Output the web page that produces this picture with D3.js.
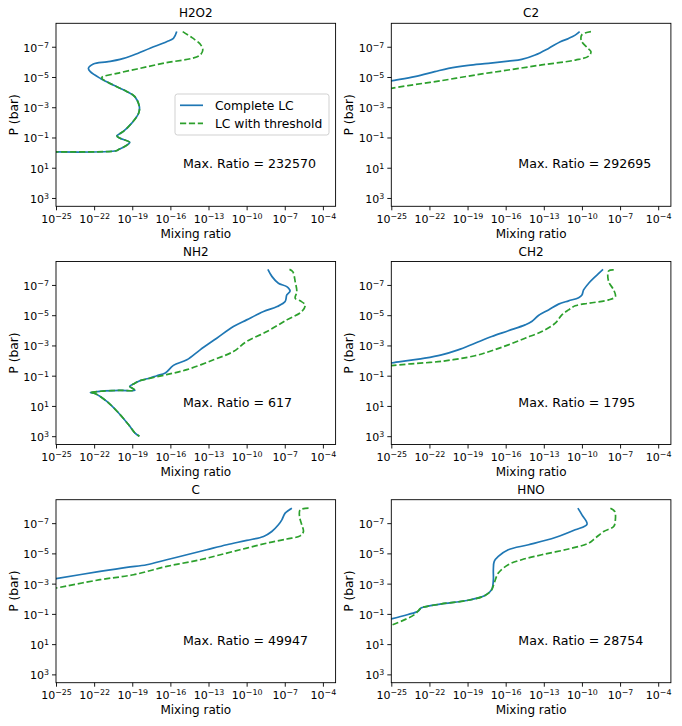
<!DOCTYPE html>
<html>
<head>
<meta charset="utf-8">
<script src="https://cdn.jsdelivr.net/npm/d3@7"></script>
<style>
  body { margin: 0; background: #fff; }
  text { font-family: "DejaVu Sans", sans-serif; fill: #000; }
</style>
</head>
<body>
<div id="figure"></div>
<script>
// profiles, as [log10 mixing ratio, log10 P (bar)]
var h2o2Complete = [[-15.5,-8.0],[-15.76,-7.55],[-16.3,-7.33],[-17.6,-6.9],[-18.9,-6.45],[-19.96,-6.16],
  [-21.0,-6.0],[-22.06,-5.86],[-22.45,-5.57],[-22.3,-5.35],[-21.5,-4.9],[-20.5,-4.47],[-19.4,-4.03],
  [-18.8,-3.7],[-18.44,-3.04],[-18.5,-2.6],[-19.04,-1.95],[-19.7,-1.4],[-20.2,-1.1],[-19.96,-0.95],
  [-19.2,-0.67],[-19.6,-0.4],[-20.1,-0.19],[-20.25,-0.12],[-25.5,-0.05]];
var h2o2Threshold = [[-15.03,-8.0],[-14.3,-7.6],[-13.66,-7.18],[-13.45,-6.78],[-13.66,-6.45],[-14.3,-6.23],
  [-16.3,-5.95],[-18.4,-5.57],[-20.2,-5.24],[-21.4,-4.95],[-20.5,-4.47],[-19.4,-4.03],
  [-18.8,-3.7],[-18.44,-3.04],[-18.5,-2.6],[-19.04,-1.95],[-19.7,-1.4],[-20.2,-1.1],[-19.96,-0.95],
  [-19.2,-0.67],[-19.6,-0.4],[-20.1,-0.19],[-20.25,-0.12],[-25.5,-0.05]];

var c2Complete = [[-10.18,-8.0],[-10.53,-7.77],[-11.05,-7.55],[-11.7,-7.33],[-12.63,-6.89],[-13.68,-6.45],
  [-14.74,-6.16],[-15.8,-6.05],[-17.37,-5.9],[-18.95,-5.77],[-20.5,-5.57],[-21.58,-5.35],[-23.16,-5.02],
  [-25,-4.74],[-25.5,-4.65]];
var c2Threshold = [[-9.29,-8.0],[-10.0,-7.8],[-10.05,-7.4],[-9.6,-6.95],[-9.29,-6.67],[-9.47,-6.38],
  [-10.5,-6.12],[-13.16,-5.8],[-15.8,-5.46],[-18.42,-5.13],[-21.05,-4.76],[-23.68,-4.43],[-25,-4.25],
  [-25.5,-4.17]];

var nh2Complete = [[-8.33,-8.03],[-8.0,-7.55],[-7.5,-7.11],[-6.84,-6.89],[-6.58,-6.6],[-6.84,-6.34],
  [-6.97,-5.9],[-7.6,-5.57],[-8.67,-5.24],[-10.0,-4.69],[-11.04,-4.25],[-12.35,-3.48],[-13.66,-2.71],
  [-14.7,-2.05],[-15.76,-1.68],[-16.4,-1.18],[-17.07,-1.0],[-17.6,-0.85],[-18.4,-0.67],[-18.9,-0.45],
  [-19.2,-0.3],[-18.9,-0.12],[-18.8,-0.03],[-20.0,-0.03],[-21.5,0.03],[-22.3,0.12],[-21.9,0.19],
  [-21.0,0.7],[-20.2,1.35],[-19.3,2.23],[-18.8,2.78],[-18.44,3.0]];
var nh2Threshold = [[-6.63,-8.03],[-6.37,-7.88],[-6.18,-7.22],[-6.05,-6.56],[-6.18,-6.12],[-5.79,-5.95],
  [-5.4,-5.68],[-5.66,-5.24],[-6.84,-4.69],[-8.4,-3.92],[-10.0,-3.26],[-11.04,-2.6],[-12.6,-2.05],
  [-14.7,-1.4],[-16.3,-1.07],[-17.86,-0.78],[-18.4,-0.67],[-18.9,-0.45],
  [-19.2,-0.3],[-18.9,-0.12],[-18.8,-0.03],[-20.0,-0.03],[-21.5,0.03],[-22.3,0.12],[-21.9,0.19],
  [-21.0,0.7],[-20.2,1.35],[-19.3,2.23],[-18.8,2.78],[-18.44,3.0]];

var ch2Complete = [[-8.34,-8.03],[-8.95,-7.55],[-9.47,-7.11],[-9.87,-6.67],[-10.0,-6.34],[-10.26,-6.16],
  [-11.05,-5.95],[-11.84,-5.73],[-12.63,-5.35],[-13.42,-4.98],[-13.95,-4.58],[-14.47,-4.36],[-15.79,-3.97],
  [-17.1,-3.59],[-18.42,-3.15],[-19.74,-2.71],[-21.05,-2.38],[-22.37,-2.16],[-25,-1.84],[-25.5,-1.78]];
var ch2Threshold = [[-7.5,-7.99],[-7.9,-7.92],[-7.9,-7.22],[-7.5,-6.67],[-7.37,-6.23],[-7.9,-6.01],
  [-9.47,-5.79],[-10.53,-5.62],[-11.05,-5.35],[-11.58,-5.02],[-12.1,-4.47],[-13.16,-3.92],[-14.47,-3.48],
  [-15.79,-3.04],[-17.1,-2.65],[-18.42,-2.32],[-21.05,-1.95],[-23.68,-1.77],[-25,-1.66],[-25.5,-1.62]];

var cComplete = [[-6.44,-7.99],[-6.97,-7.66],[-7.23,-7.22],[-7.5,-6.89],[-8.02,-6.45],[-8.67,-6.12],
  [-9.99,-5.86],[-11.56,-5.57],[-13.14,-5.24],[-14.71,-4.91],[-16.29,-4.58],[-17.86,-4.25],[-19.44,-4.08],
  [-21.54,-3.81],[-25,-3.33],[-25.5,-3.26]];
var cThreshold = [[-5.13,-7.99],[-5.79,-7.88],[-5.84,-7.44],[-5.66,-6.89],[-5.53,-6.45],[-5.79,-6.16],
  [-6.84,-5.95],[-8.4,-5.68],[-9.99,-5.35],[-11.56,-5.02],[-13.66,-4.58],[-16.29,-4.14],[-18.9,-3.59],
  [-21.54,-3.26],[-25,-2.71],[-25.5,-2.63]];

var hnoComplete = [[-10.32,-7.99],[-10.0,-7.55],[-9.6,-6.93],[-10.53,-6.56],[-12.1,-6.05],[-14.2,-5.57],
  [-15.8,-5.24],[-16.58,-4.8],[-16.9,-4.47],[-16.97,-3.92],[-16.97,-3.26],[-17.1,-2.6],[-17.63,-2.21],
  [-18.95,-1.9],[-21.05,-1.66],[-22.1,-1.51],[-22.63,-1.4],[-22.9,-1.18],[-23.68,-0.96],[-25,-0.67],
  [-25.5,-0.58]];
var hnoThreshold = [[-7.76,-7.99],[-7.42,-7.77],[-7.37,-7.22],[-7.5,-6.78],[-8.29,-6.45],[-8.95,-6.01],
  [-9.47,-5.68],[-11.05,-5.29],[-13.16,-4.91],[-14.74,-4.58],[-15.8,-4.25],[-16.58,-3.7],[-16.9,-3.04],
  [-17.1,-2.6],[-17.63,-2.21],[-18.95,-1.9],[-21.05,-1.66],[-22.1,-1.51],[-22.63,-1.4],[-23.16,-0.96],
  [-24.2,-0.52],[-25,-0.25],[-25.5,-0.15]];

var species = ["H2O2", "C2", "NH2", "CH2", "C", "HNO"];
var maxRatios = [232570, 292695, 617, 1795, 49947, 28754];
var completeProfiles = [h2o2Complete, c2Complete, nh2Complete, ch2Complete, cComplete, hnoComplete];
var thresholdProfiles = [h2o2Threshold, c2Threshold, nh2Threshold, ch2Threshold, cThreshold, hnoThreshold];
var xTicks = [-25, -22, -19, -16, -13, -10, -7, -4];
var yTicks = [-7, -5, -3, -1, 1, 3];
var legendLabels = ["Complete LC", "LC with threshold"];

var width = 682, height = 726,
    colLeft = [56, 391.3],
    rowTop = [23.3, 261.5, 499.7],
    axW = 279.6, axH = 183,
    blue = "#1f77b4", green = "#2ca02c";

function pow10(e) { return Math.pow(10, e); }

var svg = d3.select("#figure").append("svg")
  .attr("width", width)
  .attr("height", height);

var x = d3.scaleLog().domain([1e-25, 1e-3]).range([0, axW]);
var y = d3.scaleLog().domain([pow10(-8.55), pow10(3.55)]).range([0, axH]);

var line = d3.line()
  .x(function (d) { return x(pow10(d[0])); })
  .y(function (d) { return y(pow10(d[1])); })
  .curve(d3.curveCatmullRom.alpha(0.5));

function sciLabels(sel) {
  sel.each(function (d) {
    var e = Math.round(Math.log10(d));
    var t = d3.select(this).text("");
    t.append("tspan").text("10");
    t.append("tspan")
      .attr("dy", "-0.5em")
      .attr("font-size", "0.72em")
      .text(e < 0 ? "\u2212" + (-e) : String(e));
  });
}

species.forEach(function (name, i) {
  var g = svg.append("g")
    .attr("transform", "translate(" + colLeft[i % 2] + "," + rowTop[Math.floor(i / 2)] + ")");

  g.append("clipPath").attr("id", "clip" + i)
    .append("rect").attr("width", axW).attr("height", axH);

  var xa = g.append("g")
    .attr("transform", "translate(0," + axH + ")")
    .call(d3.axisBottom(x).tickValues(xTicks.map(pow10)).tickSize(4).tickSizeOuter(0));
  var ya = g.append("g")
    .call(d3.axisLeft(y).tickValues(yTicks.map(pow10)).tickSize(4).tickSizeOuter(0));

  [xa, ya].forEach(function (a) {
    a.attr("font-family", null).attr("font-size", 11);
    a.select(".domain").remove();
    a.selectAll(".tick line").attr("stroke", "#000").attr("stroke-width", 0.9);
  });
  xa.selectAll(".tick text").attr("y", 16.5).attr("dy", null).call(sciLabels);
  ya.selectAll(".tick text").attr("x", -7).attr("dy", "0.4em").call(sciLabels);

  var plot = g.append("g").attr("clip-path", "url(#clip" + i + ")");
  plot.append("path")
    .attr("d", line(completeProfiles[i]))
    .attr("fill", "none")
    .attr("stroke", blue)
    .attr("stroke-width", 1.7);
  plot.append("path")
    .attr("d", line(thresholdProfiles[i]))
    .attr("fill", "none")
    .attr("stroke", green)
    .attr("stroke-width", 1.7)
    .attr("stroke-dasharray", "6.2,2.7");

  g.append("rect")
    .attr("width", axW).attr("height", axH)
    .attr("fill", "none").attr("stroke", "#000").attr("stroke-width", 0.9);

  g.append("text")
    .attr("x", axW / 2).attr("y", -6)
    .attr("text-anchor", "middle")
    .attr("font-size", 12)
    .text(name);
  g.append("text")
    .attr("x", axW / 2).attr("y", axH + 31.5)
    .attr("text-anchor", "middle")
    .attr("font-size", 12)
    .text("Mixing ratio");
  g.append("text")
    .attr("transform", "translate(-38," + axH / 2 + ") rotate(-90)")
    .attr("text-anchor", "middle")
    .attr("font-size", 12.3)
    .text("P (bar)");
  g.append("text")
    .attr("x", 127).attr("y", 145)
    .attr("font-size", 12.6)
    .text("Max. Ratio = " + maxRatios[i]);

  if (i === 0) {
    var lg = g.append("g").attr("transform", "translate(119,70.7)");
    lg.append("rect")
      .attr("width", 154).attr("height", 41).attr("rx", 2.5)
      .attr("fill", "#fff").attr("fill-opacity", 0.8)
      .attr("stroke", "#cccccc").attr("stroke-width", 0.9);
    legendLabels.forEach(function (lab, k) {
      var ly = 11.3 + k * 18;
      lg.append("line")
        .attr("x1", 5).attr("x2", 28).attr("y1", ly).attr("y2", ly)
        .attr("stroke", k === 0 ? blue : green)
        .attr("stroke-width", 1.7)
        .attr("stroke-dasharray", k === 0 ? null : "6.2,2.7");
      lg.append("text")
        .attr("x", 40).attr("y", ly + 4.3)
        .attr("font-size", 12.3)
        .text(lab);
    });
  }
});
</script>
</body>
</html>
